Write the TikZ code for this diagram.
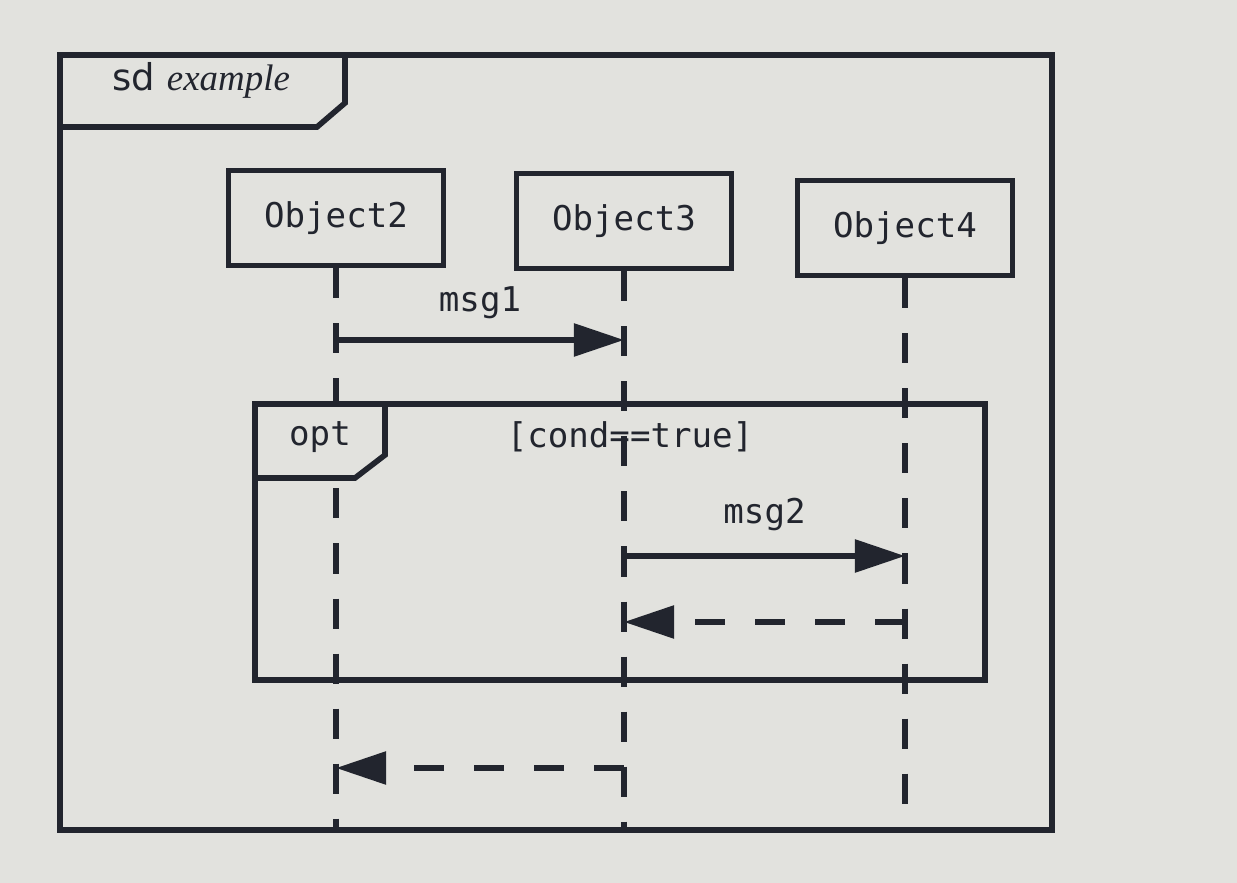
\documentclass[tikz,border=0pt]{standalone}
\usepackage{fontspec}
\setmonofont{DejaVu Sans Mono}
\setsansfont{DejaVu Sans}
\newfontfamily\sdserif{Liberation Serif}
\usetikzlibrary{arrows.meta}
\definecolor{ink}{RGB}{34,37,46}
\definecolor{paper}{RGB}{226,226,222}
\begin{document}
\begin{tikzpicture}[x=0.01cm,y=-0.01cm,line width=1.6pt,
  obj/.style={draw=ink,fill=paper,text=ink,minimum width=2.15cm,minimum height=0.95cm,font=\fontsize{9.7}{11}\selectfont\ttfamily},
  txt/.style={text=ink,font=\fontsize{9.7}{11}\selectfont\ttfamily},
  life/.style={draw=ink,dash pattern=on 0.3cm off 0.25cm},
  msg/.style={draw=ink,-{Triangle[length=0.5cm,width=0.32cm]}},
  ret/.style={msg,dash pattern=on 0.3cm off 0.3cm}]
\fill[paper] (0,0) rectangle (1237,883);
\useasboundingbox (0,0) rectangle (1237,883);
% outer frame
\draw[ink] (60,55) rectangle (1052,830);
\draw[ink] (60,127) -- (317,127) -- (345,103) -- (345,55);
\node[anchor=west,text=ink,font=\fontsize{10.5}{12}\selectfont] (sd) at (98,80) {\sffamily sd \sdserif\itshape example};
\coordinate (bot) at (0,830);
% objects
\node[obj] (obj2) at (336,218) {Object2};
\node[obj] (obj3) at (624,221) {Object3};
\node[obj] (obj4) at (905,228) {Object4};
% lifelines
\foreach \o in {obj2,obj3,obj4}
  \draw[life] (\o.south) -- (\o.south |- bot);
% opt fragment
\draw[ink] (255,404) rectangle (985,680);
\draw[ink,fill=paper] (255,478) -- (355,478) -- (385,455) -- (385,404) -- (255,404) -- cycle;
\node[txt] (opt) at (320,437) {opt};
\node[txt] (guard) at (630,437) {[cond==true]};
% messages
\coordinate (y1) at (0,340);
\coordinate (y2) at (0,556);
\coordinate (y3) at (0,622);
\coordinate (y4) at (0,768);
\draw[msg] (obj2 |- y1) -- node[txt,above=2pt] (m1) {msg1} (obj3 |- y1);
\draw[msg] (obj3 |- y2) -- node[txt,above=3pt] (m2) {msg2} (obj4 |- y2);
\draw[ret] (obj4 |- y3) -- (obj3 |- y3);
\draw[ret] (obj3 |- y4) -- (obj2 |- y4);
\end{tikzpicture}
\end{document}
